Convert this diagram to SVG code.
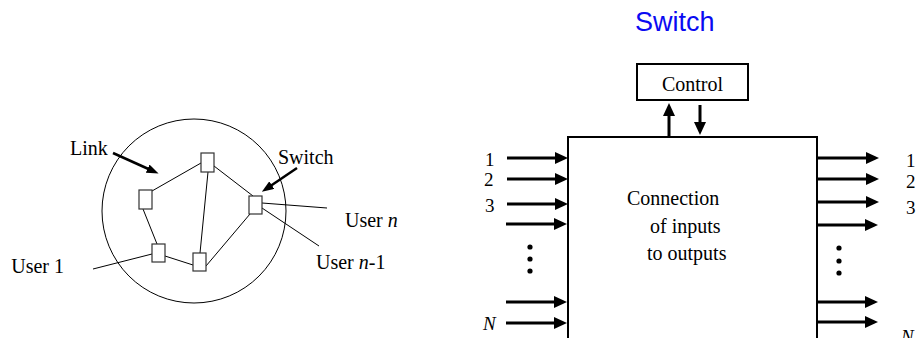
<svg xmlns="http://www.w3.org/2000/svg" width="916" height="338" viewBox="0 0 916 338">
  <style>
    .txt { font-family: "Liberation Serif", "Times New Roman", serif; font-size: 20px; fill: #000; }
    .num { font-family: "Liberation Serif", "Times New Roman", serif; font-size: 19px; fill: #000; }
    .it { font-style: italic; }
    .title { font-family: "Liberation Sans", Arial, sans-serif; font-size: 27px; fill: #0a0af2; }
    .thin { stroke: #000; stroke-width: 1; fill: none; }
    .node { stroke: #333; stroke-width: 1.2; fill: #fff; }
    .ptr { stroke: #000; stroke-width: 2.5; fill: none; marker-end: url(#headS); }
    .port { stroke: #000; stroke-width: 3; fill: none; marker-end: url(#headL); }
    .frame { stroke: #000; stroke-width: 2; fill: #fff; }
  </style>
  <defs>
    <marker id="headL" markerUnits="userSpaceOnUse" viewBox="0 0 13 12" markerWidth="13" markerHeight="12" refX="7" refY="6" orient="auto">
      <path d="M0,0 L13,6 L0,12 z" fill="#000"/>
    </marker>
    <marker id="headS" markerUnits="userSpaceOnUse" viewBox="0 0 12 9" markerWidth="12" markerHeight="9" refX="7" refY="4.5" orient="auto">
      <path d="M0,0 L12,4.5 L0,9 z" fill="#000"/>
    </marker>
  </defs>

  <!-- Left: network of switches inside a cloud -->
  <g id="network">
    <circle cx="194" cy="211" r="92" class="thin"/>
  </g>

  <g id="links">
    <line x1="152" y1="191" x2="201" y2="163" class="thin"/>
    <line x1="208" y1="172" x2="200" y2="253" class="thin"/>
    <line x1="214" y1="166" x2="253" y2="196" class="thin"/>
    <line x1="143" y1="209" x2="157" y2="244" class="thin"/>
    <line x1="165" y1="256" x2="193" y2="265" class="thin"/>
    <line x1="206" y1="266" x2="250" y2="214" class="thin"/>
    <line x1="262" y1="203" x2="327" y2="208" class="thin"/>
    <line x1="262" y1="208" x2="319" y2="246" class="thin"/>
    <line x1="152" y1="254" x2="93" y2="269" class="thin"/>
  </g>

  <g id="sw-a"><rect x="139" y="190" width="13" height="19" class="node"/></g>
  <g id="sw-b"><rect x="201" y="153" width="13" height="19" class="node"/></g>
  <g id="sw-c"><rect x="249" y="196" width="13" height="18" class="node"/></g>
  <g id="sw-d"><rect x="152" y="244" width="13" height="18" class="node"/></g>
  <g id="sw-e"><rect x="193" y="253" width="13" height="18" class="node"/></g>

  <g id="callouts">
    <line x1="113" y1="153" x2="154" y2="171.5" class="ptr"/>
    <line x1="297" y1="168" x2="266" y2="189" class="ptr"/>
  </g>

  <g id="labels-left">
    <text x="70" y="155" class="txt" font-size="19">Link</text>
    <text x="278" y="164" class="txt">Switch</text>
    <text x="345" y="227" class="txt">User <tspan class="it">n</tspan></text>
    <text x="316" y="269" class="txt">User <tspan class="it">n</tspan>-1</text>
    <text x="64" y="273" class="txt" text-anchor="end">User 1</text>
  </g>

  <!-- Right: switch block -->
  <text x="635" y="31" class="title">Switch</text>

  <g id="control">
    <rect x="637" y="64" width="111" height="36" class="frame"/>
    <text x="692.5" y="91" class="txt" font-size="21" text-anchor="middle">Control</text>
  </g>

  <g id="fabric">
    <path d="M568,340 V137 H817 V340" class="frame"/>
    <text x="627" y="205" class="txt" font-size="21">Connection</text>
    <text x="650" y="233" class="txt" font-size="21">of inputs</text>
    <text x="647" y="260" class="txt" font-size="21">to outputs</text>
  </g>

  <g id="ports">
    <line x1="669" y1="137" x2="669" y2="109" class="port"/>
    <line x1="700" y1="105" x2="700" y2="129" class="port"/>

    <line x1="507" y1="158" x2="562" y2="158" class="port"/>
    <line x1="507" y1="179" x2="562" y2="179" class="port"/>
    <line x1="507" y1="204" x2="562" y2="204" class="port"/>
    <line x1="506" y1="224" x2="561" y2="224" class="port"/>
    <line x1="506" y1="302" x2="561" y2="302" class="port"/>
    <line x1="506" y1="323" x2="561" y2="323" class="port"/>

    <line x1="818" y1="158" x2="873" y2="158" class="port"/>
    <line x1="818" y1="179" x2="873" y2="179" class="port"/>
    <line x1="818" y1="202" x2="873" y2="202" class="port"/>
    <line x1="818" y1="225" x2="872" y2="225" class="port"/>
    <line x1="818" y1="302" x2="872" y2="302" class="port"/>
    <line x1="818" y1="322" x2="872" y2="322" class="port"/>

    <circle cx="530" cy="247" r="2.6" fill="#000"/>
    <circle cx="530" cy="259" r="2.6" fill="#000"/>
    <circle cx="530" cy="271" r="2.6" fill="#000"/>
    <circle cx="839" cy="248" r="2.6" fill="#000"/>
    <circle cx="839" cy="261" r="2.6" fill="#000"/>
    <circle cx="839" cy="273" r="2.6" fill="#000"/>
  </g>

  <g id="port-labels">
    <text x="485" y="166" class="num">1</text>
    <text x="484" y="186" class="num">2</text>
    <text x="485" y="212" class="num">3</text>
    <text x="483" y="330" class="num it">N</text>
    <text x="906" y="167" class="num">1</text>
    <text x="906" y="188" class="num">2</text>
    <text x="906" y="214" class="num">3</text>
    <text x="901" y="343" class="num it">N</text>
  </g>
</svg>
